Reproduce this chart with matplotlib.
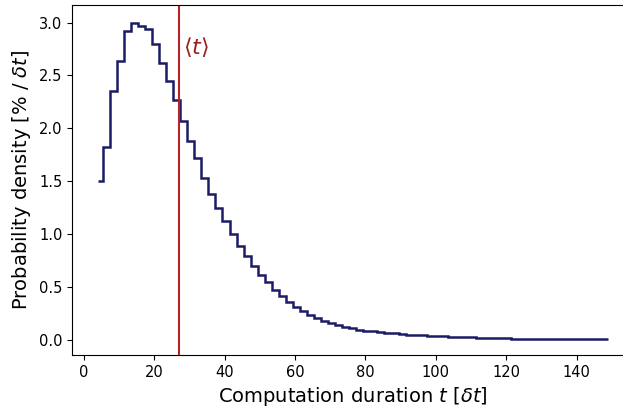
import numpy as np
import matplotlib
matplotlib.use("Agg")
from matplotlib import pyplot as plt

# bin edges of the duration histogram (in units of dt)
bin_edges = [4.0] + [5.4 + 2 * k for k in range(72)] + [149.0]

# probability density per bin [% / dt]
density = [
    1.50, 1.82, 2.35, 2.64, 2.92, 3.00, 2.97, 2.94, 2.80, 2.62,
    2.45, 2.27, 2.07, 1.88, 1.72, 1.53, 1.38, 1.25, 1.12, 1.00,
    0.89, 0.79, 0.70, 0.615, 0.545, 0.475, 0.41, 0.36, 0.315, 0.275,
    0.238, 0.207, 0.18, 0.158, 0.14, 0.124, 0.11, 0.096, 0.088, 0.080,
    0.073, 0.067, 0.061, 0.055, 0.050, 0.046, 0.042, 0.038, 0.035, 0.032,
    0.029, 0.026, 0.024, 0.022, 0.020, 0.018, 0.016, 0.015, 0.013, 0.012,
    0.011, 0.010, 0.009, 0.008, 0.008, 0.007, 0.007, 0.006, 0.006, 0.005,
    0.005, 0.004, 0.004,
]

mean_t = 27.0

fig = plt.figure(figsize=(6.23, 4.12), dpi=100)
ax = fig.add_axes([0.116, 0.138, 0.9016, 0.8495])

ax.stairs(density, bin_edges, baseline=None, color="#1c1c66", linewidth=1.8)
ax.axvline(mean_t, color="#b8232a", linewidth=1.5)
ax.text(mean_t + 1.3, 2.77, r"$\langle t \rangle$", color="#9b2222",
        fontsize=16, va="center", ha="left")

ax.set_xlim(-3.25, 156.25)
ax.set_ylim(-0.145, 3.165)
ax.set_xticks(np.arange(0, 141, 20))
ax.set_yticks(np.arange(0, 3.01, 0.5))
ax.tick_params(labelsize=10.5)

ax.set_xlabel(r"Computation duration $t$ [$\delta t$]", fontsize=14)
ax.set_ylabel(r"Probability density [% / $\delta t$]", fontsize=14)

fig.savefig("out.png", dpi=100)
